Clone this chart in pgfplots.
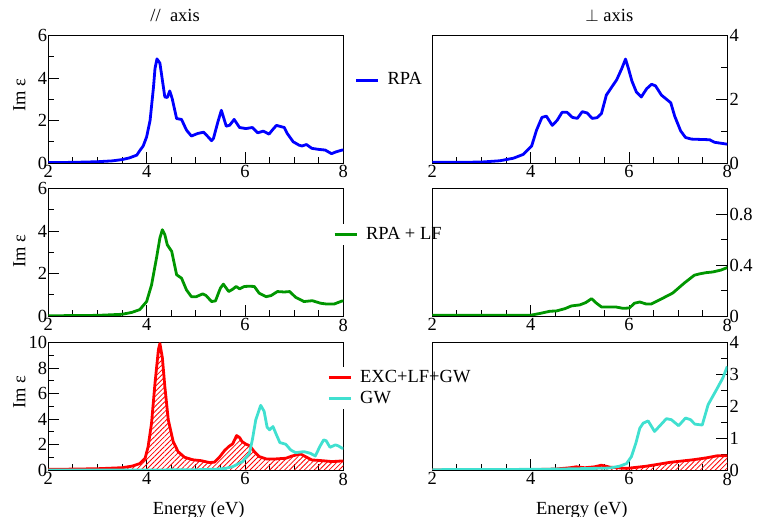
\documentclass[border=0pt]{standalone}
\usepackage{fontspec}
\setmainfont{Liberation Serif}
\usepackage{pgfplots}
\usepackage{pgfplotstable}
\pgfplotsset{compat=1.18}
\usetikzlibrary{patterns.meta}

\definecolor{grgreen}{RGB}{0,150,0}
\definecolor{turq}{RGB}{64,224,208}
\newcommand{\bigfont}{\fontsize{18.5bp}{22bp}\selectfont}

% parallel axis
\pgfplotstableread{
E v
2.0 0.02
2.5 0.03
3.0 0.06
3.3 0.10
3.5 0.16
3.65 0.24
3.8 0.37
3.86 0.58
3.93 0.80
4.00 1.23
4.07 2.00
4.14 3.58
4.17 4.44
4.21 4.90
4.27 4.70
4.37 3.11
4.42 3.08
4.47 3.39
4.52 3.03
4.61 2.09
4.71 2.05
4.81 1.55
4.91 1.27
5.04 1.39
5.16 1.45
5.25 1.23
5.32 1.05
5.36 1.16
5.45 1.94
5.52 2.48
5.62 1.73
5.69 1.78
5.78 2.05
5.89 1.67
6.02 1.62
6.15 1.67
6.26 1.42
6.37 1.50
6.49 1.36
6.56 1.56
6.64 1.77
6.80 1.67
6.86 1.39
6.98 1.00
7.10 0.84
7.16 0.80
7.25 0.87
7.36 0.69
7.50 0.64
7.63 0.61
7.76 0.44
7.86 0.53
7.98 0.61
8.00 0.61
}\rpapar

\pgfplotstableread{
E v
2.0 0.01
2.5 0.02
3.0 0.03
3.5 0.08
3.7 0.17
3.86 0.30
4.00 0.68
4.10 1.46
4.20 2.72
4.27 3.67
4.32 4.06
4.37 3.83
4.42 3.35
4.51 3.04
4.61 1.94
4.71 1.78
4.81 1.23
4.91 0.91
5.01 0.91
5.14 1.04
5.21 0.96
5.32 0.68
5.40 0.71
5.50 1.31
5.56 1.50
5.67 1.15
5.75 1.26
5.82 1.39
5.89 1.28
5.99 1.39
6.09 1.40
6.19 1.39
6.29 1.07
6.43 0.91
6.53 0.96
6.66 1.15
6.80 1.13
6.91 1.15
7.03 0.88
7.20 0.68
7.37 0.72
7.54 0.60
7.67 0.56
7.81 0.56
7.98 0.71
8.00 0.71
}\lfpar

\pgfplotstableread{
E v
2.0 0.05
2.5 0.07
3.0 0.10
3.5 0.18
3.7 0.30
3.86 0.50
3.97 0.92
4.03 1.83
4.10 3.67
4.17 6.80
4.24 9.45
4.27 9.92
4.32 8.80
4.37 6.56
4.44 3.94
4.54 2.23
4.64 1.44
4.77 1.00
4.94 0.80
5.11 0.73
5.28 0.58
5.38 0.62
5.48 1.00
5.58 1.50
5.67 1.84
5.75 2.05
5.83 2.70
5.89 2.55
5.94 2.23
6.01 2.05
6.10 1.89
6.19 1.44
6.29 1.05
6.43 0.87
6.63 0.87
6.83 0.92
6.96 1.10
7.13 1.26
7.23 1.05
7.36 0.79
7.57 0.73
7.77 0.66
7.98 0.71
8.00 0.71
}\excpar

\pgfplotstableread{
E v
2.0 0.00
4.0 0.00
5.0 0.02
5.4 0.06
5.6 0.12
5.75 0.26
5.95 0.66
6.09 1.31
6.15 2.36
6.22 3.94
6.32 5.07
6.39 4.60
6.45 3.36
6.50 3.15
6.57 3.41
6.64 2.76
6.71 2.15
6.83 2.02
6.93 1.57
7.03 1.36
7.20 1.44
7.33 1.31
7.43 1.10
7.53 1.89
7.60 2.36
7.65 2.30
7.73 1.78
7.84 1.97
7.90 1.89
7.98 1.70
8.00 1.70
}\gwpar

% perpendicular axis
\pgfplotstableread{
E v
2.0 0.02
2.5 0.02
3.0 0.03
3.375 0.07
3.65 0.15
3.85 0.27
4.02 0.53
4.12 1.03
4.23 1.43
4.32 1.47
4.44 1.18
4.54 1.34
4.64 1.59
4.74 1.59
4.85 1.43
4.95 1.40
5.05 1.61
5.15 1.57
5.25 1.40
5.35 1.42
5.44 1.55
5.54 2.13
5.64 2.36
5.75 2.61
5.85 2.95
5.93 3.26
5.99 2.96
6.06 2.57
6.15 2.23
6.25 2.07
6.36 2.33
6.46 2.47
6.54 2.42
6.66 2.13
6.85 1.89
6.93 1.47
7.05 1.01
7.15 0.80
7.27 0.75
7.44 0.74
7.64 0.73
7.74 0.65
8.00 0.59
}\rpaperp

\pgfplotstableread{
E v
2.0 0.005
3.0 0.005
4.0 0.006
4.19 0.02
4.39 0.037
4.53 0.04
4.70 0.058
4.83 0.079
5.00 0.087
5.12 0.105
5.24 0.136
5.34 0.10
5.44 0.071
5.61 0.071
5.73 0.071
5.88 0.060
6.01 0.063
6.11 0.10
6.22 0.11
6.35 0.094
6.45 0.094
6.62 0.126
6.89 0.18
7.13 0.26
7.33 0.32
7.43 0.33
7.57 0.34
7.70 0.345
7.87 0.36
8.00 0.38
}\lfperp

\pgfplotstableread{
E v
2.0 0.00
4.0 0.01
4.5 0.03
4.8 0.07
4.93 0.10
5.1 0.07
5.3 0.10
5.44 0.15
5.61 0.09
5.95 0.05
6.36 0.12
6.83 0.24
7.30 0.32
7.57 0.38
7.81 0.45
8.00 0.45
}\excperp

\pgfplotstableread{
E v
2.0 0.01
4.0 0.02
4.6 0.03
5.6 0.06
5.81 0.12
5.95 0.20
6.05 0.42
6.14 0.84
6.22 1.31
6.29 1.47
6.39 1.54
6.52 1.21
6.63 1.39
6.76 1.61
6.86 1.58
7.01 1.39
7.15 1.63
7.25 1.58
7.34 1.44
7.49 1.41
7.61 2.05
7.78 2.52
7.91 2.89
8.00 3.25
}\gwperp

\pgfplotsset{
  panel/.style={
    scale only axis, width=295bp, height=127.5bp,
    xmin=2, xmax=8, xtick={2,4,6,8}, minor x tick num=3,
    xtick pos=left, tick align=inside,
    major tick length=11bp, minor tick length=6bp,
    axis line style={line width=0.9bp},
    every tick/.append style={line width=0.9bp, black},
    /pgf/number format/assume math mode=true,
    tick label style={font=\bigfont},
    xticklabel style={inner sep=2.5bp},
    label style={font=\bigfont},
    title style={font=\bigfont, anchor=base, yshift=8bp},
    legend style={font=\bigfont, draw=none, fill=white, inner sep=1bp,
      anchor=west, column sep=7bp, row sep=2bp,
      nodes={inner sep=1bp, text height=13bp, text depth=4bp},
      cells={anchor=west}},
    legend image code/.code={\draw[#1] (0bp,0bp) -- (22bp,0bp);},
    every axis plot/.append style={line width=2.8bp, line join=round},
  },
  leftp/.style={panel, ytick pos=left, yticklabel style={inner sep=1bp},
    ylabel={Im ε}},
  rightp/.style={panel, ytick pos=right, yticklabel pos=right,
    yticklabel style={inner sep=2bp}},
  hatch/.style={draw=none, forget plot,
    pattern={Lines[angle=45,distance=3.5bp,line width=0.8bp]}, pattern color=red},
}

\begin{document}
\begin{tikzpicture}
\useasboundingbox (0bp,0bp) rectangle (761bp,517bp);

% row 1
\begin{axis}[leftp, at={(48.3bp,354bp)}, anchor=south west,
  ymin=0, ymax=6, ytick={0,2,4,6}, minor ytick={1,3,5},
  ylabel style={at={(rel axis cs:-0.098,0.53)}, anchor=center},
  title={//~~axis}, title style={at={(rel axis cs:0.43,1)}},
  legend style={at={(1.035,0.648)}}]
\addplot[blue] table[x=E,y=v] {\rpapar};
\legend{RPA}
\end{axis}
\begin{axis}[rightp, at={(432.3bp,354bp)}, anchor=south west,
  ymin=0, ymax=4, ytick={0,2,4}, minor ytick={1,3},
  title={$\perp$ axis}, title style={at={(rel axis cs:0.60,1)}}]
\addplot[blue] table[x=E,y=v] {\rpaperp};
\end{axis}

% row 2
\begin{axis}[leftp, at={(48.3bp,201bp)}, anchor=south west,
  ymin=0, ymax=6, ytick={0,2,4,6}, minor ytick={1,3,5},
  ylabel style={at={(rel axis cs:-0.098,0.51)}, anchor=center},
  legend style={at={(0.962,0.638)}}]
\addplot[grgreen] table[x=E,y=v] {\lfpar};
\legend{RPA + LF}
\end{axis}
\begin{axis}[rightp, at={(432.3bp,201bp)}, anchor=south west,
  ymin=0, ymax=1, ytick={0,0.4,0.8}, minor ytick={0.2,0.6}]
\addplot[grgreen] table[x=E,y=v] {\lfperp};
\end{axis}

% row 3
\begin{axis}[leftp, at={(48.3bp,47bp)}, anchor=south west,
  ymin=0, ymax=10, ytick={0,2,4,6,8,10}, minor ytick={1,3,5,7,9},
  ylabel style={at={(rel axis cs:-0.098,0.61)}, anchor=center},
  xlabel={Energy (eV)}, xlabel style={at={(rel axis cs:0.51,0)}, anchor=base, yshift=-44.5bp},
  legend style={at={(0.942,0.642)}}]
\addplot[hatch] table[x=E,y=v] {\excpar} \closedcycle;
\addplot[red] table[x=E,y=v] {\excpar};
\addplot[turq] table[x=E,y=v] {\gwpar};
\legend{EXC+LF+GW, GW}
\end{axis}
\begin{axis}[rightp, at={(432.3bp,47bp)}, anchor=south west,
  ymin=0, ymax=4, ytick={0,1,2,3,4}, minor y tick num=1,
  xlabel={Energy (eV)}, xlabel style={at={(rel axis cs:0.507,0)}, anchor=base, yshift=-44.5bp}]
\addplot[hatch] table[x=E,y=v] {\excperp} \closedcycle;
\addplot[red] table[x=E,y=v] {\excperp};
\addplot[turq] table[x=E,y=v] {\gwperp};
\end{axis}
\end{tikzpicture}
\end{document}
